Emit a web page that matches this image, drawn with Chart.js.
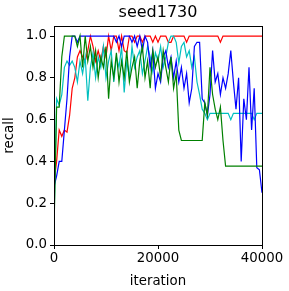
<!DOCTYPE html>
<html>
<head>
<meta charset="utf-8">
<script src="https://cdn.jsdelivr.net/npm/chart.js@4/dist/chart.umd.min.js"></script>
<style>
  body { margin: 0; background: #fff; }
  #wrap { width: 289px; height: 291px; }
</style>
</head>
<body>
<div id="wrap"><canvas id="grafica" width="289" height="291"></canvas></div>
<script>
// ------------------------------------------------------------
//  datos: recall por iteración (paso de 500)
// ------------------------------------------------------------
const TITULO = 'seed1730';
const PASO = 500;
const ITERACIONES = Array.from({ length: 81 }, (_, i) => i * PASO);
const TICKS_X = [0, 20000, 40000];
const TICKS_Y = [0.0, 0.2, 0.4, 0.6, 0.8, 1.0];

const rojo = [
  0.30, 0.40, 0.55, 0.52, 0.55, 0.54, 0.62, 0.75, 0.80, 0.90,
  0.93, 0.90, 0.88, 0.93, 1.00, 0.95, 0.88, 0.93, 0.88, 0.95,
  0.90, 1.00, 0.93, 1.00, 1.00, 0.93, 1.00, 0.93, 0.92, 1.00,
  1.00, 0.97, 1.00, 1.00, 0.97, 1.00, 1.00, 1.00, 0.97, 1.00,
  0.97, 1.00, 1.00, 1.00, 0.97, 0.97, 1.00, 1.00, 1.00, 1.00,
  1.00, 0.97, 1.00, 1.00, 1.00, 1.00, 1.00, 1.00, 1.00, 1.00,
  1.00, 1.00, 1.00, 1.00, 0.97, 1.00, 1.00, 1.00, 1.00, 1.00,
  1.00, 1.00, 1.00, 1.00, 1.00, 1.00, 1.00, 1.00, 1.00, 1.00,
  1.00
];

const azul = [
  0.28, 0.33, 0.40, 0.40, 0.55, 0.70, 0.90, 1.00, 1.00, 0.97,
  1.00, 1.00, 1.00, 1.00, 1.00, 1.00, 1.00, 1.00, 1.00, 1.00,
  1.00, 1.00, 1.00, 1.00, 0.97, 1.00, 0.95, 1.00, 1.00, 1.00,
  0.97, 1.00, 0.95, 1.00, 0.93, 1.00, 0.97, 0.85, 0.93, 0.75,
  0.82, 0.78, 0.90, 0.93, 0.85, 0.90, 0.80, 0.88, 0.78, 0.85,
  0.75, 0.82, 0.68, 0.75, 0.95, 0.97, 0.97, 0.70, 0.68, 0.62,
  0.72, 0.93, 0.78, 0.82, 0.72, 0.80, 0.75, 0.82, 0.93, 0.78,
  0.65, 0.80, 0.40, 0.70, 0.60, 0.85, 0.55, 0.75, 0.37, 0.36,
  0.25
];

const cian = [
  0.10, 0.70, 0.67, 0.72, 0.85, 0.88, 0.86, 0.88, 0.85, 0.78,
  0.88, 0.82, 0.90, 0.69, 0.85, 0.92, 0.80, 0.90, 0.85, 0.95,
  0.80, 0.88, 0.93, 0.78, 0.90, 0.85, 0.95, 0.73, 0.88, 0.80,
  0.95, 0.85, 0.90, 0.93, 0.82, 0.88, 0.95, 0.90, 0.83, 0.92,
  0.88, 0.95, 0.85, 0.90, 0.97, 1.00, 1.00, 0.97, 0.87, 0.95,
  0.97, 0.90, 0.93, 0.85, 0.90, 0.78, 0.72, 0.65, 0.63, 0.60,
  0.63, 0.63, 0.63, 0.63, 0.63, 0.63, 0.63, 0.63, 0.60, 0.63,
  0.63, 0.63, 0.63, 0.63, 0.63, 0.63, 0.63, 0.60, 0.63, 0.63,
  0.63
];

const verde = [
  0.07, 0.66, 0.66, 0.90, 1.00, 1.00, 1.00, 1.00, 1.00, 0.95,
  1.00, 0.85, 1.00, 0.88, 0.95, 0.85, 0.93, 0.80, 0.90, 0.85,
  0.95, 0.70, 0.88, 0.80, 0.92, 0.78, 0.88, 0.80, 0.93, 0.78,
  0.85, 0.90, 0.75, 0.88, 0.95, 0.80, 0.88, 0.75, 0.93, 0.85,
  0.90, 0.80, 0.93, 0.85, 0.78, 0.90, 0.75, 0.82, 0.55, 0.50,
  0.50, 0.50, 0.50, 0.50, 0.50, 0.50, 0.50, 0.50, 0.68, 0.62,
  0.85, 0.72, 0.65, 0.60, 0.66, 0.50, 0.377, 0.377, 0.377, 0.377,
  0.377, 0.377, 0.377, 0.377, 0.377, 0.377, 0.377, 0.377, 0.377, 0.377,
  0.377
];

const FUENTE = 'DejaVu Sans';

function puntos(serie) {
  return serie.map((v, i) => ({ x: ITERACIONES[i], y: v }));
}

function serie(datos, color) {
  return {
    data: puntos(datos),
    borderColor: color,
    borderWidth: 1.2,
    pointRadius: 0,
    tension: 0,
    fill: false
  };
}

// título y marco completo estilo matplotlib
const marco = {
  id: 'marco',
  afterDraw(chart) {
    const { ctx, chartArea: a } = chart;
    ctx.save();
    ctx.strokeStyle = '#000';
    ctx.lineWidth = 1;
    ctx.strokeRect(Math.round(a.left) + 0.5, Math.round(a.top) + 0.5,
                   Math.round(a.right - a.left), Math.round(a.bottom - a.top));
    ctx.fillStyle = '#000';
    ctx.font = '16px "' + FUENTE + '"';
    ctx.textAlign = 'center';
    ctx.textBaseline = 'middle';
    ctx.fillText(TITULO, (a.left + a.right) / 2, 13);
    ctx.restore();
  }
};

new Chart(document.getElementById('grafica'), {
  type: 'line',
  data: {
    datasets: [
      serie(verde, '#008000'),
      serie(azul, '#0000ff'),
      serie(cian, '#00bfbf'),
      serie(rojo, '#ff0000')
    ]
  },
  options: {
    responsive: false,
    animation: false,
    layout: { padding: { top: 26, right: 27, left: 0, bottom: 0 } },
    plugins: { legend: { display: false }, tooltip: { enabled: false } },
    scales: {
      x: {
        type: 'linear',
        min: 0,
        max: 40000,
        afterFit: s => { s.height = 46; },
        afterBuildTicks: s => { s.ticks = TICKS_X.map(v => ({ value: v })); },
        ticks: {
          color: '#000', font: { family: FUENTE, size: 13.33 }, padding: 2,
          maxRotation: 0, callback: v => String(v)
        },
        grid: { display: true, drawOnChartArea: false, drawTicks: true, tickLength: 4, color: '#000' },
        border: { display: true, color: '#000' },
        title: { display: true, text: 'iteration', color: '#000', font: { family: FUENTE, size: 13.33 }, padding: { top: 2, bottom: 1 } }
      },
      y: {
        min: 0,
        max: 1.048,
        afterFit: s => { s.width = 54; },
        afterBuildTicks: s => { s.ticks = TICKS_Y.map(v => ({ value: v })); },
        ticks: {
          color: '#000', font: { family: FUENTE, size: 13.33 }, padding: 3,
          callback: v => v.toFixed(1)
        },
        grid: { display: true, drawOnChartArea: false, drawTicks: true, tickLength: 4, color: '#000' },
        border: { display: true, color: '#000' },
        title: { display: true, text: 'recall', color: '#000', font: { family: FUENTE, size: 13.33 }, padding: { top: 2, bottom: 0 } }
      }
    }
  },
  plugins: [marco]
});
</script>
</body>
</html>
